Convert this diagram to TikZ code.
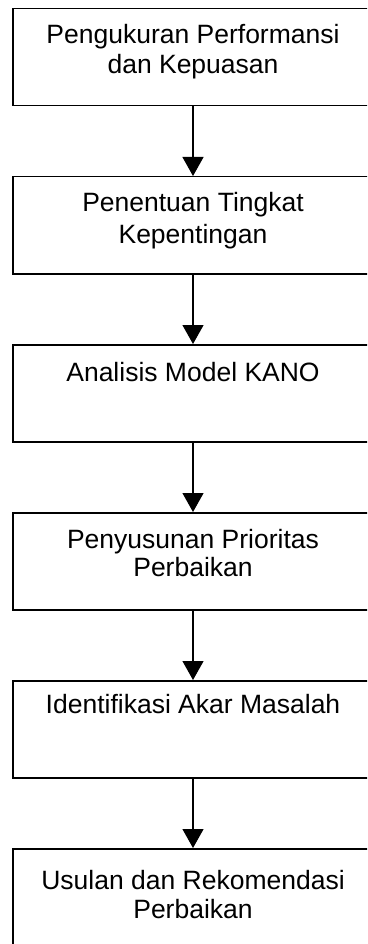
\documentclass[tikz,border=0pt]{standalone}
\usepackage{fontspec}
\setmainfont{Liberation Sans}
\usetikzlibrary{arrows.meta}
\begin{document}
\begin{tikzpicture}[x=1pt,y=1pt,
  box/.style={draw, line width=1.5pt, minimum width=360pt, minimum height=97pt, inner sep=0pt, anchor=north},
  txt/.style={font=\fontsize{26.5}{30}\selectfont, anchor=base, inner sep=0pt},
  arr/.style={line width=1.2pt, -{Triangle[length=19pt,width=21pt]}}]
\useasboundingbox (0,0) rectangle (367,-944);
\clip (0,0) rectangle (367,-944);
\node[box] (b1) at (193,-8) {};
\node[box] (b2) at (193,-176) {};
\node[box] (b3) at (193,-344) {};
\node[box] (b4) at (193,-512) {};
\node[box] (b5) at (193,-680) {};
\node[box] (b6) at (193,-848) {};
\node[txt] (t1a) at (193,-43.3) {Pengukuran Performansi};
\node[txt] (t1b) at (193,-73.3) {dan Kepuasan};
\node[txt] (t2a) at (193,-211.7) {Penentuan Tingkat};
\node[txt] (t2b) at (193,-243.3) {Kepentingan};
\node[txt] (t3a) at (193,-381) {Analisis Model KANO};
\node[txt] (t4a) at (193,-548) {Penyusunan Prioritas};
\node[txt] (t4b) at (193,-576.7) {Perbaikan};
\node[txt] (t5a) at (193,-713.3) {Identifikasi Akar Masalah};
\node[txt] (t6a) at (193,-889.5) {Usulan dan Rekomendasi};
\node[txt] (t6b) at (193,-918) {Perbaikan};
\draw[arr] (b1.south) -- (b2.north);
\draw[arr] (b2.south) -- (b3.north);
\draw[arr] (b3.south) -- (b4.north);
\draw[arr] (b4.south) -- (b5.north);
\draw[arr] (b5.south) -- (b6.north);
\end{tikzpicture}
\end{document}
